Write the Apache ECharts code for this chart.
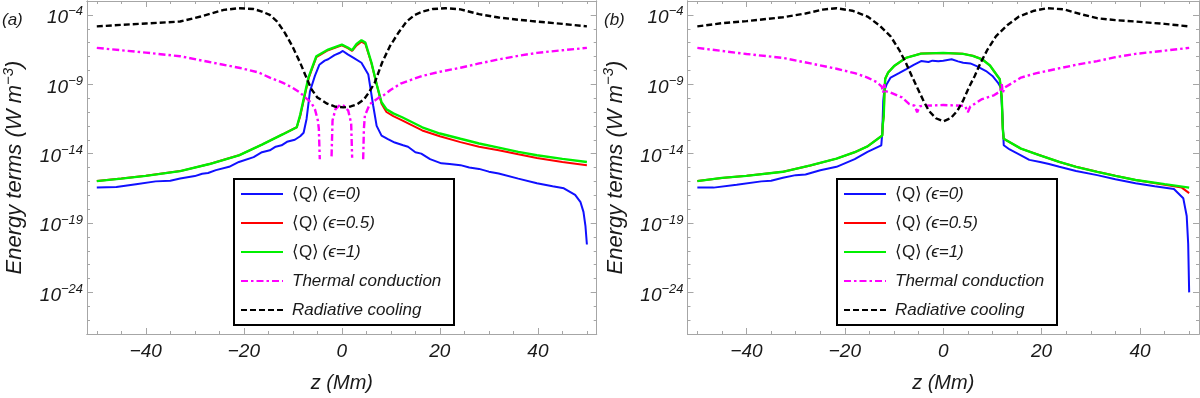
<!DOCTYPE html>
<html>
<head>
<meta charset="utf-8">
<script src="https://cdn.jsdelivr.net/npm/echarts@6.0.0/dist/echarts.min.js"></script>
<style>
html,body{margin:0;padding:0;background:#fff;}
#chart{width:1200px;height:398px;}
</style>
</head>
<body>
<div id="chart"></div>
<script>
// ---------------- DATA (z in Mm, values given as log10 of energy term in W m^-3) ----------------
const seriesNames = ['⟨Q⟩ (ϵ=0)', '⟨Q⟩ (ϵ=0.5)', '⟨Q⟩ (ϵ=1)', 'Thermal conduction', 'Radiative cooling'];
const xTickLabels = [-40, -20, 0, 20, 40];
const xMinorTicks = [-50, -45, -35, -30, -25, -15, -10, -5, 5, 10, 15, 25, 30, 35, 45, 50];
const yTickLabels = [-24, -19, -14, -9, -4];        // exponents of labelled decades
const yMinorTicks = [-26, -25, -23, -22, -21, -20, -18, -17, -16, -15, -13, -12, -11, -10, -8, -7, -6, -5, -3];

// Panel (a)
const qEps0_a = [[-50,-16.45],[-46,-16.4],[-42,-16.2],[-38,-16.0],[-35,-15.95],[-33,-15.79],[-30,-15.62],[-28.5,-15.45],[-27.3,-15.4],[-25.7,-15.19],[-23,-14.95],[-21,-14.6],[-18,-14.25],[-16.3,-13.9],[-14.7,-13.76],[-13.5,-13.5],[-12.3,-13.4],[-11.2,-13.15],[-9.6,-13.0],[-8.5,-12.75],[-7.8,-12.5],[-7.2,-11.5],[-6.5,-9.5],[-5.5,-8.4],[-4.6,-7.6],[-3.5,-7.3],[-2.8,-7.2],[-1.5,-6.9],[-0.5,-6.75],[0.2,-6.6],[1.2,-6.85],[2.4,-7.1],[4.0,-7.45],[5.4,-8.3],[6.4,-10.55],[7.1,-12.0],[8.1,-12.7],[9.4,-12.95],[10.8,-13.2],[12.5,-13.4],[13.5,-13.5],[15,-13.9],[16.2,-14.0],[18,-14.4],[20.3,-14.7],[22,-14.75],[24.2,-14.83],[26,-15.0],[28,-15.1],[30,-15.3],[32,-15.43],[36,-15.8],[39.8,-16.14],[43,-16.35],[45.3,-16.5],[47.6,-16.98],[48.7,-17.5],[49.3,-18.2],[49.7,-19.2],[50,-20.55]];
const qEps05_a = [[-50,-15.98],[-45,-15.8],[-40,-15.6],[-33,-15.26],[-27,-14.75],[-21,-14.12],[-16.3,-13.35],[-12,-12.6],[-9.2,-12.1],[-8.5,-11.3],[-7.5,-9.7],[-6.8,-8.6],[-6.2,-8.0],[-5.2,-7.05],[-2.8,-6.55],[0,-6.19],[1.2,-6.4],[2.1,-6.6],[3.0,-6.2],[4.0,-5.93],[4.8,-6.1],[6.05,-7.5],[7.1,-9.0],[8.1,-10.4],[9.1,-11.0],[10.5,-11.3],[12.3,-11.6],[16.4,-12.33],[20,-12.75],[24.2,-13.17],[28,-13.5],[32,-13.76],[36,-14.05],[39.8,-14.31],[45,-14.6],[50,-14.83]];
const qEps1_a = [[-50,-15.98],[-45,-15.8],[-40,-15.6],[-33,-15.26],[-27,-14.75],[-21,-14.12],[-16.3,-13.35],[-12,-12.6],[-9.2,-12.1],[-8.5,-11.2],[-7.5,-9.6],[-6.8,-8.5],[-6.2,-7.93],[-5.2,-6.98],[-2.8,-6.5],[0,-6.14],[1.2,-6.35],[2.1,-6.55],[3.0,-6.1],[4.0,-5.83],[4.8,-6.0],[6.05,-7.45],[7.1,-9.0],[8.1,-10.3],[9.1,-10.8],[10.5,-11.1],[12.3,-11.38],[16.4,-12.1],[20,-12.55],[24.2,-12.93],[28,-13.27],[32,-13.57],[36,-13.87],[39.8,-14.12],[45,-14.38],[50,-14.6]];
const thermal_a = [[-50,-6.38],[-45,-6.55],[-40,-6.72],[-33,-6.98],[-27,-7.4],[-21,-7.81],[-17,-8.15],[-14.7,-8.52],[-12,-8.9],[-10.1,-9.24],[-8.5,-9.6],[-7.5,-9.95],[-6.3,-10.3],[-5.5,-10.79],[-4.9,-11.6],[-4.7,-12.2],[-4.5,-14.4],[-3.3,null],[-2.1,-14.2],[-1.9,-11.6],[-1.3,-10.8],[-0.4,-10.5],[0.4,-10.55],[1.3,-10.9],[1.9,-11.8],[2.1,-14.3],[3.2,null],[4.35,-14.4],[4.5,-12.2],[4.7,-11.26],[5.7,-10.43],[7.4,-10.0],[8.5,-9.8],[10,-9.4],[12,-8.95],[16.4,-8.4],[20,-8.1],[24.2,-7.81],[28,-7.5],[32,-7.21],[36,-6.95],[39.8,-6.74],[45,-6.55],[50,-6.38]];
const radiative_a = [[-50,-4.83],[-45,-4.72],[-40,-4.62],[-33,-4.48],[-28.8,-4.12],[-24.1,-3.64],[-21,-3.52],[-18,-3.58],[-16.3,-3.76],[-14.7,-4.0],[-13.2,-4.48],[-11.6,-5.31],[-10.1,-6.26],[-8.5,-7.45],[-7.5,-8.3],[-6.2,-9.36],[-5.0,-9.95],[-3,-10.4],[-1.5,-10.6],[0.3,-10.67],[1.8,-10.6],[3.2,-10.43],[4.5,-10.1],[5.5,-9.6],[6.7,-8.9],[8.2,-7.45],[9.8,-6.26],[11.5,-5.31],[13.2,-4.48],[14.9,-4.0],[16.5,-3.76],[18.5,-3.58],[21.1,-3.52],[24.2,-3.6],[28,-3.95],[32,-4.19],[36,-4.35],[39.8,-4.48],[45,-4.65],[50,-4.83]];

// Panel (b)
const qEps0_b = [[-50,-16.45],[-46.7,-16.45],[-42,-16.25],[-37,-16.0],[-35,-15.95],[-32.6,-15.74],[-30,-15.55],[-28,-15.5],[-25,-15.2],[-21.7,-14.95],[-18,-14.4],[-15.4,-13.88],[-12.6,-13.4],[-12.4,-12.5],[-12.2,-10.2],[-12.0,-9.5],[-11.5,-9.0],[-10.7,-8.52],[-9,-8.2],[-7.6,-7.93],[-6,-7.6],[-4.5,-7.33],[-3,-7.4],[-2.2,-7.3],[-1,-7.35],[0,-7.3],[1.7,-7.2],[3,-7.35],[4.05,-7.45],[5.5,-7.5],[6.8,-7.69],[8.7,-8.05],[10,-8.4],[11.1,-8.88],[11.7,-9.24],[12.0,-11],[12.3,-13.4],[13.5,-13.7],[15.8,-14.12],[17.5,-14.45],[19.7,-14.6],[21.5,-14.75],[23.6,-14.95],[27,-15.25],[31.3,-15.55],[35,-15.85],[39.1,-16.14],[43,-16.35],[46.9,-16.55],[48.8,-17.21],[49.5,-18.5],[49.8,-20.5],[50,-24]];
const qEps05_b = [[-50,-15.98],[-45,-15.75],[-40,-15.6],[-32.6,-15.31],[-27,-14.85],[-21.7,-14.36],[-18,-13.9],[-15.4,-13.48],[-12.4,-12.69],[-12.3,-11.9],[-12.1,-11.3],[-11.95,-9.5],[-11.8,-8.6],[-11.2,-8.15],[-10,-7.69],[-7.6,-7.1],[-4.5,-6.79],[0,-6.74],[4.05,-6.81],[6,-6.95],[7.9,-7.2],[9.5,-7.65],[10.3,-8.05],[11.5,-8.64],[11.9,-10.0],[12.1,-12.2],[12.3,-12.93],[12.7,-13.0],[15.8,-13.64],[19.5,-14.1],[23.6,-14.6],[27,-14.95],[31.3,-15.31],[35,-15.6],[39.1,-15.9],[45,-16.25],[48.5,-16.45],[50,-16.85]];
const qEps1_b = [[-50,-15.98],[-45,-15.75],[-40,-15.6],[-32.6,-15.31],[-27,-14.85],[-21.7,-14.36],[-18,-13.9],[-15.4,-13.48],[-12.4,-12.69],[-12.3,-11.9],[-12.1,-11.3],[-11.95,-9.5],[-11.8,-8.6],[-11.2,-8.15],[-10,-7.69],[-7.6,-7.1],[-4.5,-6.79],[0,-6.74],[4.05,-6.81],[6,-6.95],[7.9,-7.2],[9.5,-7.65],[10.3,-8.05],[11.5,-8.64],[11.9,-10.0],[12.1,-12.2],[12.3,-12.93],[12.7,-13.0],[15.8,-13.64],[19.5,-14.1],[23.6,-14.6],[27,-14.95],[31.3,-15.31],[35,-15.6],[39.1,-15.9],[45,-16.2],[50,-16.45]];
const thermal_b = [[-50,-6.38],[-45,-6.6],[-40,-6.82],[-32.6,-7.1],[-27,-7.5],[-21.7,-7.88],[-18,-8.2],[-15.4,-8.52],[-13.5,-8.85],[-12.5,-9.17],[-12.2,-9.6],[-12.0,-9.0],[-11.7,-9.5],[-10.7,-9.6],[-8.4,-9.95],[-6.9,-10.43],[-5.8,-10.55],[-5.3,-11.02],[-4.8,-10.6],[-4.3,-10.55],[0,-10.5],[4.05,-10.55],[4.5,-10.6],[5.0,-11.02],[5.5,-10.6],[6.0,-10.5],[7.9,-10.07],[10.3,-9.8],[11.6,-9.5],[11.9,-9.0],[12.1,-9.6],[12.5,-9.24],[15.8,-8.52],[19,-8.2],[23.6,-7.85],[27,-7.6],[31.3,-7.33],[35,-7.05],[39.1,-6.81],[45,-6.58],[50,-6.38]];
const radiative_b = [[-50,-4.83],[-45,-4.6],[-40,-4.45],[-32.6,-4.17],[-28,-3.9],[-24.5,-3.62],[-21.7,-3.52],[-18.5,-3.7],[-15.4,-4.12],[-13,-4.75],[-10.7,-5.55],[-9,-6.5],[-7.6,-7.45],[-6.4,-8.4],[-5.3,-9.24],[-4,-10.2],[-2.95,-10.9],[-1.5,-11.45],[0,-11.67],[1.5,-11.45],[2.9,-10.9],[4,-10.2],[5.2,-9.24],[6.4,-8.4],[7.6,-7.45],[9,-6.5],[10.7,-5.55],[13,-4.75],[15.4,-4.12],[18.5,-3.7],[21.2,-3.52],[24.5,-3.6],[28,-3.95],[31.3,-4.24],[35,-4.38],[39.1,-4.48],[45,-4.65],[50,-4.83]];

// ---------------- STYLE ----------------
const FRAME = '#a6a6a6';
const TXT = '#1a1a1a';
const FONT = '"Liberation Sans", Arial, sans-serif';
const colors = ['#1010ff', '#ff0000', '#00f000', '#ff00ff', '#000000'];
const lineTypes = ['solid', 'solid', 'solid', [7, 3, 2.5, 3], [6, 3]];
const lineWidths = [2, 2, 2.4, 2.4, 2.4];

function xAxesFor(g) {
  const base = {type: 'value', gridIndex: g, min: -52, max: 52, splitLine: {show: false},
    axisLine: {show: true, onZero: false, lineStyle: {color: FRAME, width: 1}}};
  return [
    Object.assign({}, base, {position: 'bottom', name: 'z (Mm)', nameLocation: 'middle', nameGap: 39,
      nameTextStyle: {fontFamily: FONT, fontSize: 20, fontStyle: 'italic', color: TXT},
      axisLabel: {customValues: xTickLabels, fontFamily: FONT, fontSize: 19, fontStyle: 'italic', color: TXT, margin: 8,
        formatter: v => (v < 0 ? '−' + (-v) : '' + v)},
      axisTick: {customValues: xTickLabels, inside: true, length: 6, lineStyle: {color: FRAME}}}),
    Object.assign({}, base, {position: 'bottom', axisLabel: {show: false},
      axisTick: {customValues: xMinorTicks, inside: true, length: 3, lineStyle: {color: FRAME}}}),
    Object.assign({}, base, {position: 'top', axisLabel: {show: false},
      axisTick: {customValues: xTickLabels, inside: true, length: 6, lineStyle: {color: FRAME}}}),
    Object.assign({}, base, {position: 'top', axisLabel: {show: false},
      axisTick: {customValues: xMinorTicks, inside: true, length: 3, lineStyle: {color: FRAME}}})
  ];
}
function yAxesFor(g) {
  const base = {type: 'value', gridIndex: g, min: -27, max: -3, splitLine: {show: false},
    axisLine: {show: true, onZero: false, lineStyle: {color: FRAME, width: 1}}};
  return [
    Object.assign({}, base, {position: 'left', name: '{i|Energy terms (W m}{s|−3}{i|)}', nameLocation: 'middle', nameGap: 58, nameRotate: 90,
      nameTextStyle: {rich: {
        i: {fontFamily: FONT, fontSize: 22, fontStyle: 'italic', color: TXT},
        s: {fontFamily: FONT, fontSize: 15, fontStyle: 'italic', color: TXT, padding: [0, 0, 13, 0]}}},
      axisLabel: {customValues: yTickLabels, margin: 4,
        formatter: v => '{b|10}{s|−' + (-v) + '}',
        rich: {
          b: {fontFamily: FONT, fontSize: 19, fontStyle: 'italic', color: TXT, padding: [6, 0, 0, 0]},
          s: {fontFamily: FONT, fontSize: 13, fontStyle: 'italic', color: TXT, padding: [0, 0, 6, 0]}}},
      axisTick: {customValues: yTickLabels, inside: true, length: 6, lineStyle: {color: FRAME}}}),
    Object.assign({}, base, {position: 'left', axisLabel: {show: false},
      axisTick: {customValues: yMinorTicks, inside: true, length: 3, lineStyle: {color: FRAME}}}),
    Object.assign({}, base, {position: 'right', axisLabel: {show: false},
      axisTick: {customValues: yTickLabels, inside: true, length: 6, lineStyle: {color: FRAME}}}),
    Object.assign({}, base, {position: 'right', axisLabel: {show: false},
      axisTick: {customValues: yMinorTicks, inside: true, length: 3, lineStyle: {color: FRAME}}})
  ];
}

const panelData = [
  [qEps0_a, qEps05_a, qEps1_a, thermal_a, radiative_a],
  [qEps0_b, qEps05_b, qEps1_b, thermal_b, radiative_b]
];
const series = [];
panelData.forEach((arrs, g) => {
  arrs.forEach((d, k) => {
    series.push({
      type: 'line', name: seriesNames[k], data: d,
      xAxisIndex: g * 4, yAxisIndex: g * 4,
      symbol: 'none', connectNulls: false, clip: true,
      lineStyle: {color: colors[k], width: lineWidths[k], type: lineTypes[k]},
      itemStyle: {color: colors[k]},
      z: 2 + k
    });
  });
});

function legendFor(left) {
  return {
    orient: 'vertical', left: left, top: 179,
    data: seriesNames,
    backgroundColor: '#fff', borderColor: '#000', borderWidth: 2,
    padding: [5, 10, 5, 6],
    itemWidth: 42, itemHeight: 14, itemGap: 9,
    selectedMode: false,
    itemStyle: {opacity: 0, borderWidth: 0},
    formatter: function (name) {
      if (name.indexOf('⟨Q⟩') === 0) return '{u|⟨Q⟩} {i|' + name.slice(4) + '}';
      return '{i|' + name + '}';
    },
    textStyle: {
      width: 152, lineHeight: 20, padding: [0, 0, 0, 4],
      rich: {
        u: {fontFamily: FONT, fontSize: 17, color: TXT},
        i: {fontFamily: FONT, fontSize: 17, fontStyle: 'italic', color: TXT}
      }
    }
  };
}

const option = {
  animation: false,
  backgroundColor: '#fff',
  grid: [
    {left: 84.3, top: 1, width: 512.4, height: 335.5},
    {left: 687.5, top: 1, width: 511.5, height: 335.5}
  ],
  xAxis: xAxesFor(0).concat(xAxesFor(1)),
  yAxis: yAxesFor(0).concat(yAxesFor(1)),
  legend: [legendFor(234), legendFor(837)],
  graphic: [
    {type: 'text', left: 2, top: 12, style: {text: '(a)', fontFamily: FONT, fontSize: 17, fontStyle: 'italic', fill: TXT}},
    {type: 'text', left: 604, top: 12, style: {text: '(b)', fontFamily: FONT, fontSize: 17, fontStyle: 'italic', fill: TXT}}
  ],
  series: series
};

const chart = echarts.init(document.getElementById('chart'), null, {renderer: 'canvas'});
chart.setOption(option);
</script>
</body>
</html>
